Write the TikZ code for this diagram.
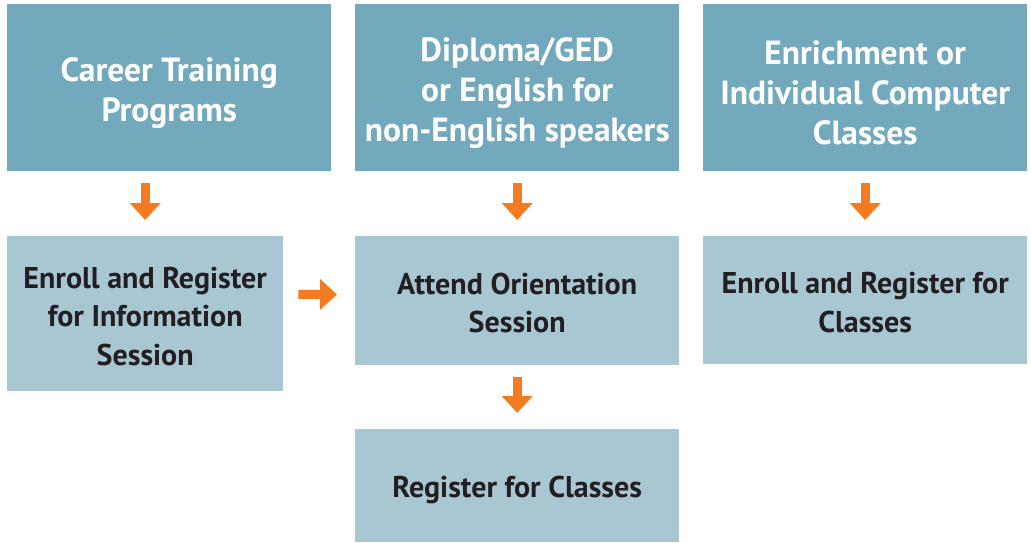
\documentclass[tikz,border=0pt]{standalone}
\usepackage{fontspec}
\setmainfont{PT Sans}
\usetikzlibrary{arrows.meta,calc}
\definecolor{topc}{HTML}{73A9BC}
\definecolor{lowc}{HTML}{A9C6D3}
\definecolor{arr}{HTML}{F47B20}
\definecolor{txt}{HTML}{231F20}
\begin{document}
\begin{tikzpicture}[x=1pt,y=-1pt,
  topbox/.style={fill=topc, draw=none, anchor=north west, inner sep=0pt,
    minimum width=324pt, minimum height=167pt},
  toptext/.style={align=center, text=white, inner sep=0pt, yshift=-5pt,
    font=\fontsize{33.5}{40}\selectfont\bfseries},
  lowbox/.style={fill=lowc, draw=none, anchor=north west, inner sep=0pt},
  lowtext/.style={align=center, text=txt, inner sep=0pt, yshift=-2.5pt,
    font=\fontsize{30}{38.5}\selectfont\bfseries},
  flow/.style={draw=arr, line width=9pt, -{Triangle[width=30pt,length=17pt]}}]
\useasboundingbox (0,0) rectangle (1031,542);
\node[topbox, label={[toptext]center:{Career Training\\Programs}}] (t1) at (7,4) {};
\node[topbox, label={[toptext]center:{Diploma/GED\\or English for\\non-English speakers}}] (t2) at (355,4) {};
\node[topbox, label={[toptext]center:{Enrichment or\\Individual Computer\\Classes}}] (t3) at (703,4) {};
\node[lowbox, minimum width=276pt, minimum height=155pt,
  label={[lowtext]center:{Enroll and Register\\for Information\\Session}}] (l1) at (7,236) {};
\node[lowbox, minimum width=324pt, minimum height=129pt,
  label={[lowtext]center:{Attend Orientation\\Session}}] (l2) at (355,236) {};
\node[lowbox, minimum width=324pt, minimum height=128pt,
  label={[lowtext]center:{Enroll and Register for\\Classes}}] (l3) at (703,236) {};
\node[lowbox, minimum width=324pt, minimum height=113pt,
  label={[lowtext, yshift=-1.5pt]center:{Register for Classes}}] (r2) at (355,429) {};
\draw[flow, shorten <=12pt, shorten >=16pt] (l1.north |- t1.south) -- (l1.north);
\draw[flow, shorten <=12pt, shorten >=16pt] (t2.south) -- (l2.north);
\draw[flow, shorten <=12pt, shorten >=16pt] (t3.south) -- (l3.north);
\draw[flow, shorten <=12pt, shorten >=16pt] (l2.south) -- (r2.north);
\draw[flow, shorten <=15pt, shorten >=18pt] ($(l1.east)+(0,-19.5)$) -- ($(l2.west)+(0,-6)$);
\end{tikzpicture}
\end{document}
